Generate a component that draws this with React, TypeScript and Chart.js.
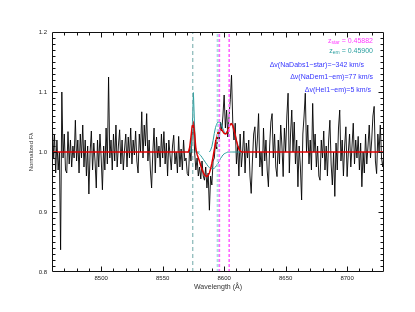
import { useEffect, useRef } from 'react';
import { Chart, registerables } from 'chart.js';

Chart.register(...registerables);

// ---- data -------------------------------------------------------------
const WAVE_START = 8460; // Å, first pixel of the spectrum
const WAVE_STEP = 1; // Å per pixel
const FLUX = [
  1.07, 0.99, 1.03, 0.965, 1.02, 0.97, 1.0, 0.837, 1.1, 0.99,
  1.03, 0.97, 0.965, 1.034, 0.98, 1.02, 0.975, 1.01, 0.99, 1.053,
  0.985, 1.02, 0.965, 1.03, 0.99, 1.045, 0.975, 1.02, 0.96, 1.01,
  0.93, 1.0, 1.035, 0.97, 1.015, 0.985, 0.94, 1.02, 0.975, 1.03,
  0.99, 0.937, 1.01, 0.97, 1.04, 0.98, 1.125, 0.99, 1.02, 0.97,
  1.03, 0.985, 1.045, 0.975, 1.01, 1.037, 0.98, 1.02, 0.97, 1.005,
  1.03, 0.975, 1.025, 0.99, 1.04, 0.98, 1.02, 0.995, 1.035, 0.985,
  0.965, 1.03, 1.0, 1.067, 0.99, 1.045, 1.01, 1.064, 0.985, 1.02,
  0.97, 0.94, 1.0, 1.04, 0.965, 1.025, 0.99, 1.01, 0.975, 1.03,
  0.99, 1.034, 0.98, 1.015, 0.96, 1.02, 0.995, 0.97, 1.01, 1.028,
  0.98, 1.0, 0.965, 1.026, 0.975, 1.005, 0.97, 1.02, 0.985, 0.99,
  0.964, 0.96, 1.01, 0.985, 1.03, 1.05, 1.0, 0.97, 0.99, 0.96,
  0.975, 0.955, 0.985, 0.96, 0.953, 0.975, 0.94, 0.965, 0.903, 0.96,
  0.945, 0.985, 0.99, 1.02, 1.005, 1.035, 1.02, 1.05, 1.035, 1.06,
  1.095, 1.04, 1.07, 1.025, 1.06, 1.087, 1.128, 1.05, 1.02, 1.048,
  0.98, 1.01, 0.96, 1.03, 0.975, 1.0, 1.035, 0.965, 1.015, 0.99,
  1.02, 0.96, 0.931, 0.985, 1.03, 1.042, 0.99, 1.02, 1.064, 0.975,
  1.0, 0.96, 1.04, 0.985, 1.02, 0.97, 0.942, 1.01, 1.05, 1.064,
  0.99, 1.03, 0.975, 0.959, 1.02, 0.98, 1.045, 1.01, 0.959, 1.04,
  1.0, 1.06, 1.098, 0.965, 1.03, 1.07, 1.0, 1.05, 0.98, 1.02,
  0.942, 1.01, 0.975, 0.92, 1.03, 1.06, 1.098, 1.0, 1.045, 0.98,
  1.02, 0.97, 1.081, 1.0, 1.03, 0.975, 1.01, 0.96, 0.953, 1.02,
  0.99, 1.035, 0.97, 1.01, 0.96, 1.02, 1.053, 0.98, 0.945, 1.0,
  0.926, 1.015, 0.97, 1.04, 1.07, 0.985, 1.02, 0.96, 1.01, 1.042,
  0.959, 1.0, 1.03, 0.975, 1.01, 1.048, 0.98, 1.02, 0.99, 1.026,
  0.97, 1.015, 0.942, 1.0, 0.965, 1.03, 0.98, 1.01, 1.045, 0.99,
  1.02, 1.06, 1.076, 0.985, 0.964, 1.03, 1.0, 1.045, 0.99, 0.975,
  1.0,
];

const CONTINUUM = 1.0;
const MODEL_START = 8570;
const MODEL_TOTAL = [
  1.0, 1.0, 1.008, 1.025, 1.043, 1.048, 1.03, 1.005, 0.996, 0.99,
  0.984, 0.977, 0.971, 0.966, 0.962, 0.96, 0.959, 0.961, 0.965, 0.972,
  0.981, 0.992, 1.004, 1.015, 1.025, 1.032, 1.036, 1.038, 1.037, 1.034,
  1.031, 1.03, 1.031, 1.036, 1.042, 1.046, 1.047, 1.044, 1.037, 1.028,
  1.019, 1.011, 1.005, 1.002, 1.0, 1.0, 1.0,
];

const HEI_START = 8570;
const HEI_EMISSION = [1.0, 1.0, 1.0, 1.0, 1.035, 1.099, 1.04, 1.0, 1.0, 1.0, 1.0];

const ABS_START = 8576;
const NAD_ABSORPTION = [
  1.0, 1.0, 0.999, 0.998, 0.996, 0.994, 0.991, 0.988, 0.985, 0.982,
  0.979, 0.976, 0.974, 0.973, 0.972, 0.972, 0.973, 0.975, 0.978, 0.981,
  0.985, 0.989, 0.992, 0.995, 0.997, 0.998, 0.999, 1.0, 1.0, 1.0,
  1.0, 1.0, 1.0, 1.0, 1.0, 1.0, 1.0, 1.0, 1.0, 1.0,
];

const EM_START = 8588;
const NAD_EMISSION = [
  1.0, 1.003, 1.009, 1.019, 1.031, 1.041, 1.047, 1.05, 1.05, 1.049,
  1.045, 1.039, 1.034, 1.031, 1.032, 1.037, 1.043, 1.047, 1.047, 1.044,
  1.037, 1.028, 1.019, 1.011, 1.005, 1.002, 1.0, 1.0,
];

const LINES_EM = [8574.5, 8594.7]; // teal markers (z_em)
const LINES_STAR = [8596.1, 8604.1]; // magenta markers (z_star)

const X_MIN = 8460;
const X_MAX = 8730;
const Y_MIN = 0.8;
const Y_MAX = 1.2;
const X_TICKS = [8500, 8550, 8600, 8650, 8700];
const Y_TICKS = [0.8, 0.9, 1.0, 1.1, 1.2];
const X_MINOR_STEP = 10;
const Y_MINOR_STEP = 0.01;

const Z_STAR = '0.45882';
const Z_EM = '0.45900';
const DV_LABELS = [
  'Δv(NaDabs1−star)=−342 km/s',
  'Δv(NaDem1−em)=77 km/s',
  'Δv(HeI1−em)=5 km/s',
];

// ---- helpers ------------------------------------------------------------
const toXY = (start: number, step: number, arr: number[]) =>
  arr.map((v, i) => ({ x: start + i * step, y: v }));

const vline = (x: number) => [
  { x, y: Y_MIN },
  { x, y: Y_MAX },
];

const FONT = '"Liberation Sans", Arial, Helvetica, sans-serif';
const MAGENTA = '#ff3cff';
const TEAL = '#2a9f9f';
const BLUE = '#3535ff';

const framePlugin = {
  id: 'idlFrame',
  afterDatasetsDraw(chart: any) {
    const { ctx, chartArea, scales } = chart;
    const { left, right, top, bottom } = chartArea;
    const xs = scales.x;
    const ys = scales.y;
    ctx.save();
    ctx.strokeStyle = '#111';
    ctx.lineWidth = 1;
    const L = Math.round(left) + 0.5;
    const R = Math.round(right) - 0.5;
    const T = Math.round(top) + 0.5;
    const B = Math.round(bottom) - 0.5;
    ctx.beginPath();
    ctx.rect(L, T, R - L, B - T);
    const nx = Math.round((X_MAX - X_MIN) / X_MINOR_STEP);
    for (let i = 0; i <= nx; i++) {
      const v = Math.ceil(X_MIN / X_MINOR_STEP) * X_MINOR_STEP + i * X_MINOR_STEP;
      if (v <= X_MIN || v >= X_MAX) continue;
      const major = X_TICKS.includes(v);
      const len = major ? 5 : 3;
      const px = Math.round(xs.getPixelForValue(v)) + 0.5;
      ctx.moveTo(px, B);
      ctx.lineTo(px, B - len);
      ctx.moveTo(px, T);
      ctx.lineTo(px, T + len);
    }
    const ny = Math.round((Y_MAX - Y_MIN) / Y_MINOR_STEP);
    for (let i = 1; i < ny; i++) {
      const v = Y_MIN + i * Y_MINOR_STEP;
      const major = Y_TICKS.some((t) => Math.abs(t - v) < 1e-6);
      const len = major ? 5 : 3;
      const py = Math.round(ys.getPixelForValue(v)) + 0.5;
      ctx.moveTo(L, py);
      ctx.lineTo(L + len, py);
      ctx.moveTo(R, py);
      ctx.lineTo(R - len, py);
    }
    ctx.stroke();
    ctx.restore();
  },
  afterDraw(chart: any) {
    const { ctx } = chart;
    ctx.save();
    ctx.textBaseline = 'middle';
    ctx.textAlign = 'left';
    const f = (s: number) => `${s}px ${FONT}`;
    const drawZ = (sub: string, value: string, color: string, right: number, cy: number) => {
      ctx.fillStyle = color;
      ctx.font = f(7);
      const w1 = ctx.measureText('z').width;
      ctx.font = f(5);
      const w2 = ctx.measureText(sub).width;
      ctx.font = f(7);
      const rest = ' = ' + value;
      const w3 = ctx.measureText(rest).width;
      let x = right - (w1 + w2 + w3);
      ctx.fillText('z', x, cy);
      x += w1;
      ctx.font = f(5);
      ctx.fillText(sub, x, cy + 2);
      x += w2;
      ctx.font = f(7);
      ctx.fillText(rest, x, cy);
    };
    drawZ('star', Z_STAR, MAGENTA, 373, 41);
    drawZ('em', Z_EM, TEAL, 373, 51);
    ctx.fillStyle = BLUE;
    ctx.font = f(7);
    ctx.textAlign = 'right';
    const rights = [364, 373, 371];
    const ys = [65.5, 77.5, 90];
    DV_LABELS.forEach((t, i) => ctx.fillText(t, rights[i], ys[i]));
    ctx.restore();
  },
};

export default function App() {
  const ref = useRef<HTMLCanvasElement | null>(null);
  useEffect(() => {
    if (!ref.current) return;
    const lineDs = (data: any[], color: string, width: number, order: number, dash?: number[]) => ({
      data,
      borderColor: color,
      borderWidth: width,
      borderDash: dash || [],
      pointRadius: 0,
      fill: false,
      tension: 0,
      order,
    });
    const datasets: any[] = [
      lineDs(toXY(WAVE_START, WAVE_STEP, FLUX), '#000', 0.9, 10),
      lineDs(toXY(HEI_START, 1, HEI_EMISSION), TEAL, 1, 6),
      lineDs(toXY(ABS_START, 1, NAD_ABSORPTION), TEAL, 1, 6),
      lineDs(toXY(EM_START, 1, NAD_EMISSION), TEAL, 1, 6),
      lineDs(
        [{ x: X_MIN, y: CONTINUUM }, ...toXY(MODEL_START, 1, MODEL_TOTAL), { x: X_MAX, y: CONTINUUM }],
        '#e00000',
        1.5,
        4
      ),
      lineDs(vline(LINES_EM[0]), '#6fa8a8', 1, 2, [4, 3]),
      lineDs(vline(LINES_EM[1]), '#a8e0e0', 2, 2, [3, 2]),
      ...LINES_STAR.map((w) => lineDs(vline(w), '#ff66ff', 1.6, 1, [3, 2])),
    ];
    const chart = new Chart(ref.current, {
      type: 'line',
      data: { datasets },
      plugins: [framePlugin],
      options: {
        animation: false,
        responsive: false,
        devicePixelRatio: 1,
        layout: { padding: { left: 0, right: 31, top: 32, bottom: 0 } },
        plugins: { legend: { display: false }, tooltip: { enabled: false } },
        scales: {
          x: {
            type: 'linear',
            min: X_MIN,
            max: X_MAX,
            grid: { display: false, drawTicks: false },
            border: { display: false },
            afterBuildTicks: (s: any) => {
              s.ticks = X_TICKS.map((v) => ({ value: v }));
            },
            afterFit: (s: any) => {
              s.height = 40;
            },
            ticks: {
              padding: 3,
              maxRotation: 0,
              autoSkip: false,
              color: '#222',
              font: { family: FONT, size: 6 },
              callback: (v: any) => String(v),
            },
            title: {
              display: true,
              text: 'Wavelength (Å)',
              color: '#333',
              font: { family: FONT, size: 7 },
              padding: { top: 0, bottom: 21 },
            },
          },
          y: {
            type: 'linear',
            min: Y_MIN,
            max: Y_MAX,
            grid: { display: false, drawTicks: false },
            border: { display: false },
            afterBuildTicks: (s: any) => {
              s.ticks = Y_TICKS.map((v) => ({ value: v }));
            },
            afterFit: (s: any) => {
              s.width = 52;
            },
            ticks: {
              padding: 5,
              autoSkip: false,
              color: '#222',
              font: { family: FONT, size: 6 },
              callback: (v: any) => Number(v).toFixed(1),
            },
            title: {
              display: true,
              text: 'Normalized Fλ',
              color: '#333',
              font: { family: FONT, size: 6 },
              padding: { top: 28, bottom: 0 },
            },
          },
        },
      },
    });
    return () => chart.destroy();
  }, []);
  return (
    <div style={{ position: 'fixed', left: 0, top: 0, width: 415, height: 312, background: '#fff' }}>
      <canvas ref={ref} width={415} height={312} style={{ width: 415, height: 312 }} />
    </div>
  );
}
